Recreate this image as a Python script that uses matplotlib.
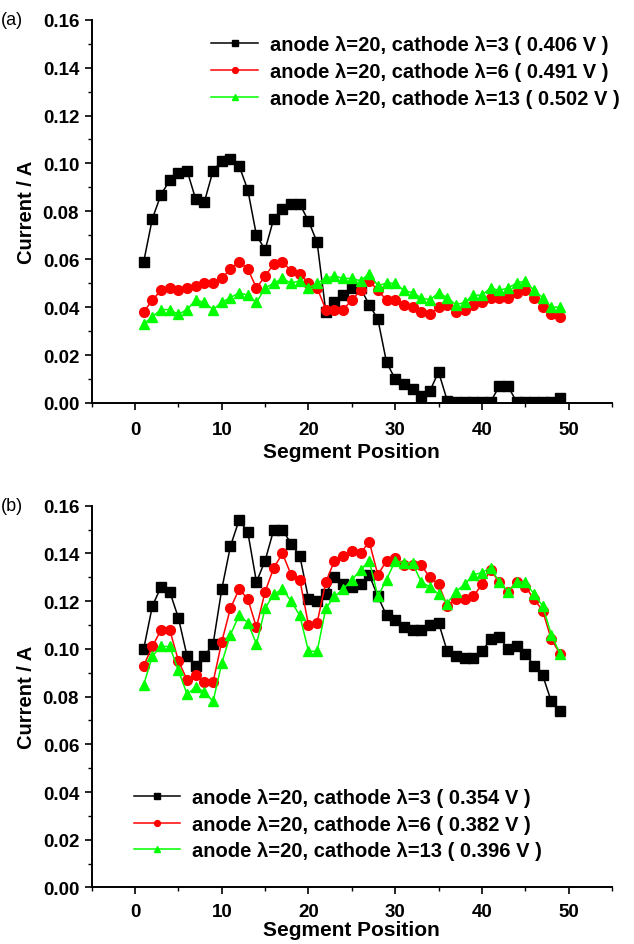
import numpy as np
import matplotlib
matplotlib.use("Agg")
import matplotlib.pyplot as plt
from matplotlib.ticker import MultipleLocator, FormatStrFormatter

plt.rcParams['font.family'] = ['Liberation Sans', 'DejaVu Sans']
plt.rcParams['font.weight'] = 'bold'

segment = np.arange(1, 50)

# panel (a)
a_lam3 = [0.059, 0.077, 0.087, 0.093, 0.096, 0.097, 0.085, 0.084, 0.097, 0.101,
          0.102, 0.099, 0.089, 0.070, 0.064, 0.077, 0.081, 0.083, 0.083, 0.076,
          0.067, 0.038, 0.042, 0.045, 0.048, 0.048, 0.041, 0.035, 0.017, 0.010,
          0.008, 0.006, 0.003, 0.005, 0.013, 0.001, 0.0005, 0.0005, 0.0005, 0.0005,
          0.0005, 0.007, 0.007, 0.0005, 0.0005, 0.0005, 0.0005, 0.0005, 0.002]
a_lam6 = [0.038, 0.043, 0.047, 0.048, 0.047, 0.048, 0.049, 0.050, 0.050, 0.052,
          0.056, 0.059, 0.056, 0.048, 0.053, 0.058, 0.059, 0.055, 0.054, 0.050,
          0.048, 0.039, 0.039, 0.039, 0.043, 0.047, 0.051, 0.047, 0.043, 0.043,
          0.041, 0.040, 0.038, 0.037, 0.040, 0.041, 0.038, 0.039, 0.041, 0.042,
          0.044, 0.044, 0.044, 0.046, 0.047, 0.044, 0.040, 0.037, 0.036]
a_lam13 = [0.033, 0.036, 0.039, 0.039, 0.037, 0.039, 0.043, 0.042, 0.039, 0.042,
           0.044, 0.046, 0.045, 0.042, 0.048, 0.050, 0.052, 0.050, 0.051, 0.048,
           0.050, 0.052, 0.053, 0.052, 0.052, 0.051, 0.054, 0.049, 0.050, 0.050,
           0.047, 0.046, 0.044, 0.043, 0.046, 0.044, 0.041, 0.042, 0.045, 0.045,
           0.048, 0.047, 0.048, 0.050, 0.051, 0.047, 0.044, 0.040, 0.040]

# panel (b)
b_lam3 = [0.100, 0.118, 0.126, 0.124, 0.113, 0.097, 0.093, 0.097, 0.102, 0.125,
          0.143, 0.154, 0.149, 0.128, 0.137, 0.150, 0.150, 0.144, 0.139, 0.121,
          0.120, 0.123, 0.130, 0.127, 0.126, 0.127, 0.131, 0.122, 0.114, 0.112,
          0.109, 0.108, 0.108, 0.110, 0.111, 0.099, 0.097, 0.096, 0.096, 0.099,
          0.104, 0.105, 0.100, 0.101, 0.098, 0.093, 0.089, 0.078, 0.074]
b_lam6 = [0.093, 0.101, 0.108, 0.108, 0.095, 0.087, 0.089, 0.086, 0.086, 0.103,
          0.117, 0.125, 0.121, 0.109, 0.124, 0.134, 0.140, 0.131, 0.129, 0.110,
          0.111, 0.128, 0.137, 0.139, 0.141, 0.140, 0.145, 0.131, 0.137, 0.138,
          0.135, 0.135, 0.135, 0.130, 0.127, 0.118, 0.121, 0.121, 0.122, 0.127,
          0.133, 0.128, 0.124, 0.128, 0.126, 0.121, 0.116, 0.104, 0.098]
b_lam13 = [0.085, 0.097, 0.101, 0.101, 0.091, 0.081, 0.084, 0.082, 0.078, 0.094,
           0.106, 0.114, 0.111, 0.102, 0.117, 0.123, 0.125, 0.120, 0.114, 0.099,
           0.099, 0.117, 0.122, 0.125, 0.129, 0.133, 0.137, 0.122, 0.129, 0.137,
           0.136, 0.136, 0.128, 0.126, 0.123, 0.119, 0.124, 0.127, 0.131, 0.132,
           0.134, 0.128, 0.124, 0.128, 0.128, 0.123, 0.118, 0.106, 0.098]

labels_a = ['anode λ=20, cathode λ=3 ( 0.406 V )',
            'anode λ=20, cathode λ=6 ( 0.491 V )',
            'anode λ=20, cathode λ=13 ( 0.502 V )']
labels_b = ['anode λ=20, cathode λ=3 ( 0.354 V )',
            'anode λ=20, cathode λ=6 ( 0.382 V )',
            'anode λ=20, cathode λ=13 ( 0.396 V )']

styles = [('black', 's', 6.5), ('#ff0000', 'o', 7), ('#00ff00', '^', 7)]

fig = plt.figure(figsize=(6.34, 9.45), dpi=100)
ax_a = fig.add_axes([0.1446, 0.5725, 0.8207, 0.4056])
ax_b = fig.add_axes([0.1446, 0.0598, 0.8207, 0.404])


def draw(ax, series, labels, loc, anchor, tag, xpad, tpad):
    for ys, lab, (c, m, ms) in zip(series, labels, styles):
        ax.plot(segment, ys, color=c, marker=m, ms=ms, mfc=c, mec=c, lw=1.1, label=lab)
    ax.set_xlim(-5, 55)
    ax.set_ylim(0, 0.16)
    ax.xaxis.set_major_locator(MultipleLocator(10))
    ax.xaxis.set_minor_locator(MultipleLocator(5))
    ax.yaxis.set_major_locator(MultipleLocator(0.02))
    ax.yaxis.set_minor_locator(MultipleLocator(0.01))
    ax.yaxis.set_major_formatter(FormatStrFormatter('%.2f'))
    for s in ['top', 'right']:
        ax.spines[s].set_visible(False)
    for s in ['left', 'bottom']:
        ax.spines[s].set_linewidth(1.4)
    ax.tick_params(which='major', direction='out', length=5, width=1.2, labelsize=13.5)
    ax.tick_params(axis='x', which='major', pad=tpad)
    ax.tick_params(axis='y', which='major', pad=4)
    ax.tick_params(which='minor', direction='out', length=3, width=1.0)
    ax.set_xlabel('Segment Position', fontsize=15, fontweight='bold', labelpad=xpad)
    ax.set_ylabel('Current / A', fontsize=14.5, fontweight='bold', labelpad=5)
    ax.legend(loc=loc, bbox_to_anchor=anchor, frameon=False, fontsize=14.5,
              handlelength=2.3, markerscale=0.6, labelspacing=0.38, handletextpad=0.6,
              borderaxespad=0)
    ax.text(-0.175, 1.0, tag, transform=ax.transAxes, fontsize=13,
            fontweight='normal', ha='left', va='center')


draw(ax_a, [a_lam3, a_lam6, a_lam13], labels_a, 'upper right', (1.03, 0.98), '(a)', 3, 8)
draw(ax_b, [b_lam3, b_lam6, b_lam13], labels_b, 'lower left', (0.065, 0.05), '(b)', 0, 6)

fig.savefig('out.png', dpi=100)
